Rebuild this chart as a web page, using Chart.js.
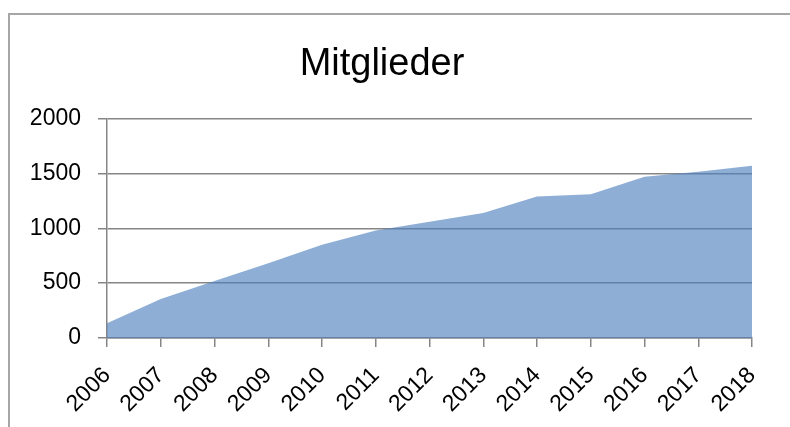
<!DOCTYPE html>
<html>
<head>
<meta charset="utf-8">
<script src="https://cdn.jsdelivr.net/npm/chart.js@4"></script>
<style>
  html, body { margin: 0; padding: 0; background: #fff; }
  #wrap { position: relative; width: 790px; height: 427px; overflow: hidden; }
  #frame { position: absolute; left: 8px; top: 13px; width: 800px; height: 430px;
           border-left: 2px solid #a6a6a6; border-top: 2px solid #a6a6a6; }
  canvas { position: absolute; left: 0; top: 0; }
</style>
</head>
<body>
<div id="wrap">
  <div id="frame"></div>
  <canvas id="chart" width="790" height="427"></canvas>
</div>
<script>
// Mitgliederzahlen pro Jahr
const years = ['2006', '2007', '2008', '2009', '2010', '2011', '2012', '2013', '2014', '2015', '2016', '2017', '2018'];
const members = [135, 355, 520, 682, 850, 980, 1060, 1140, 1290, 1310, 1470, 1515, 1570];
const yMin = 0;
const yMax = 2000;
const yStep = 500;

const font = 'Liberation Sans, Arial, sans-serif';

new Chart(document.getElementById('chart'), {
    type: 'line',
    data: {
        labels: years,
        datasets: [{
            label: 'Mitglieder',
            data: members,
            fill: 'origin',
            backgroundColor: 'rgba(79, 129, 189, 0.64)',
            borderWidth: 0,
            pointRadius: 0,
            tension: 0
        }]
    },
    options: {
        responsive: false,
        animation: false,
        layout: { padding: { left: 12, right: 38, top: 0, bottom: 0 } },
        plugins: {
            legend: { display: false },
            tooltip: { enabled: false },
            title: {
                display: true,
                text: 'Mitglieder',
                color: '#000',
                font: { family: font, size: 38, weight: 'normal', lineHeight: 1.2 },
                padding: { top: 42, bottom: 31 }
            }
        },
        scales: {
            x: {
                offset: false,
                grid: { display: true, drawOnChartArea: false, color: '#868686', lineWidth: 1.5, tickLength: 9 },
                border: { display: true, color: '#868686', width: 1.5 },
                ticks: { color: '#000', font: { family: font, size: 23 }, maxRotation: 45, minRotation: 45, padding: 15, autoSkip: false },
                afterFit: s => { s.height = 89; }
            },
            y: {
                min: yMin,
                max: yMax,
                grid: { color: '#868686', lineWidth: 1.5, tickLength: 9 },
                border: { display: true, color: '#868686', width: 1.5 },
                ticks: { stepSize: yStep, color: '#000', font: { family: font, size: 23 }, padding: 17,
                         callback: v => String(v) },
                afterFit: s => { s.width = 95; }
            }
        }
    }
});
</script>
</body>
</html>
